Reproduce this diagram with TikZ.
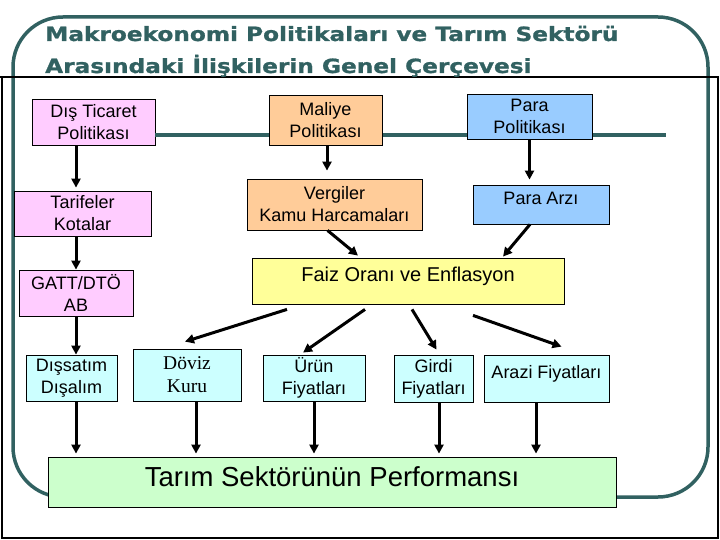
\documentclass[tikz,border=0pt]{standalone}
\usepackage{fontspec}
\setmainfont{Liberation Sans}
\newfontfamily\titlefont[FakeBold=1]{DejaVu Sans Bold}
\newfontfamily\serifbox{Liberation Serif}
\usepackage{tikz}
\usetikzlibrary{arrows.meta}
\usepackage{xcolor}
\definecolor{framecol}{RGB}{49,97,97}
\definecolor{tradepink}{RGB}{255,204,255}
\definecolor{fiscalorange}{RGB}{255,204,153}
\definecolor{moneyblue}{RGB}{153,204,255}
\definecolor{rateyellow}{RGB}{255,255,153}
\definecolor{pricecyan}{RGB}{204,255,255}
\definecolor{sectorgreen}{RGB}{204,255,204}

\begin{document}
\begin{tikzpicture}[x=1pt,y=-1pt,
  box/.style={draw, line width=0.8pt, align=center, inner sep=2pt, font=\fontsize{18}{22}\selectfont},
  tradebox/.style={box, fill=tradepink},
  fiscalbox/.style={box, fill=fiscalorange},
  moneybox/.style={box, fill=moneyblue},
  pricebox/.style={box, fill=pricecyan},
  arr/.style={-{Triangle[length=9pt,width=9pt]}, line width=3pt},
  frameline/.style={draw=framecol, line width=3.5pt},
  titletext/.style={anchor=base west, inner sep=0pt, text=framecol, font=\titlefont\fontsize{19.6}{23}\selectfont}
]
\useasboundingbox (0,0) rectangle (720,540);

% Frame and title
\draw[frameline, rounded corners=50pt] (13,17) rectangle (708,497);
\draw[line width=2pt] (0,77) -- (718,77) -- (718,538) -- (2,538) -- (2,77);
\node[titletext] (title1) at (45,41) {\scalebox{1.185}[1]{Makroekonomi Politikaları ve Tarım Sektörü}};
\node[titletext] (title2) at (45,73) {\scalebox{1.185}[1]{Arasındaki İlişkilerin Genel Çerçevesi}};

% Policy row
\node[tradebox, minimum width=123pt, minimum height=46pt] (dis) at (93.5,122) {Dış Ticaret\\Politikası};
\coordinate (railend) at (666,135);
\draw[frameline, line width=4pt] (dis.east |- railend) -- (railend);
\node[fiscalbox, minimum width=113pt, minimum height=50pt] (maliye) at (325.5,120) {Maliye\\Politikası};
\node[moneybox, minimum width=125pt, minimum height=45pt] (para) at (529.5,116.5) {Para\\Politikası};

% Instruments
\node[tradebox, minimum width=137pt, minimum height=45pt] (tarife) at (82.5,213.5) {Tarifeler\\Kotalar};
\node[fiscalbox, minimum width=175pt, minimum height=51pt] (vergi) at (334.5,204.5) {Vergiler\\Kamu Harcamaları};
\node[moneybox, minimum width=136pt, minimum height=39pt, text height=13pt, text depth=13pt] (arz) at (541,204.5) {Para Arzı};
\node[tradebox, minimum width=114pt, minimum height=46pt] (gatt) at (76,293) {GATT/DTÖ\\AB};
\node[box, fill=rateyellow, minimum width=312pt, minimum height=46pt, text height=15pt, text depth=15pt, font=\fontsize{20}{24}\selectfont] (faiz) at (408,281) {Faiz Oranı ve Enflasyon};

% Prices
\node[pricebox, minimum width=91pt, minimum height=46pt] (dissatim) at (71.5,378) {Dışsatım\\Dışalım};
\node[pricebox, minimum width=108pt, minimum height=52pt, font=\serifbox\fontsize{19.5}{23}\selectfont] (doviz) at (187,375) {Döviz\\Kuru};
\node[pricebox, minimum width=102pt, minimum height=46pt] (urun) at (314,378) {Ürün\\Fiyatları};
\node[pricebox, minimum width=79pt, minimum height=47pt] (girdi) at (433.5,378.5) {Girdi\\Fiyatları};
\node[pricebox, minimum width=125pt, minimum height=47pt, text height=13pt, text depth=13pt] (arazi) at (546.5,378.5) {Arazi Fiyatları};

% Outcome
\node[box, fill=sectorgreen, minimum width=568pt, minimum height=50pt, text depth=10pt, font=\fontsize{27.5}{32}\selectfont] (tarim) at (332,482) {Tarım Sektörünün Performansı};

% Left column
\draw[arr, shorten >=3pt] (dis.south -| gatt) -- (tarife.north -| gatt);
\draw[arr] (tarife.south -| gatt) -- (gatt.north);
\draw[arr] (gatt.south) -- (dissatim.north -| gatt);
\draw[arr, shorten >=3pt] (dissatim.south -| gatt) -- (tarim.north -| gatt);

% Fiscal and monetary branches
\draw[arr, shorten >=8pt] ([xshift=1.5pt]maliye.south) -- ([xshift=1.5pt]maliye.south |- vergi.north);
\draw[arr] ([xshift=-7pt]vergi.south) -- ([xshift=-50pt,yshift=2pt]faiz.north);
\draw[arr, shorten >=5pt] (para.south) -- (para.south |- arz.north);
\draw[arr] ([xshift=-11pt]arz.south) -- ([xshift=95pt,yshift=1pt]faiz.north);

% From interest rate to prices
\draw[arr] ([xshift=-121pt,yshift=-5pt]faiz.south) -- ([xshift=-2pt,yshift=7pt]doviz.north);
\draw[arr] ([xshift=-43pt,yshift=-5pt]faiz.south) -- ([xshift=-11pt,yshift=2pt]urun.north);
\draw[arr] ([xshift=4pt,yshift=-5pt]faiz.south) -- ([xshift=3pt,yshift=5pt]girdi.north);
\draw[arr] ([xshift=65pt,yshift=-11pt]faiz.south) -- ([xshift=15pt,yshift=8pt]arazi.north);

% Prices to sector performance
\draw[arr, shorten >=3pt] ([xshift=9pt]doviz.south) -- ([xshift=9pt]doviz.south |- tarim.north);
\draw[arr, shorten >=3pt] (urun.south) -- (urun.south |- tarim.north);
\draw[arr, shorten >=3pt] ([xshift=5.5pt]girdi.south) -- ([xshift=5.5pt]girdi.south |- tarim.north);
\draw[arr, shorten >=3pt] ([xshift=-10.5pt]arazi.south) -- ([xshift=-10.5pt]arazi.south |- tarim.north);
\end{tikzpicture}
\end{document}
